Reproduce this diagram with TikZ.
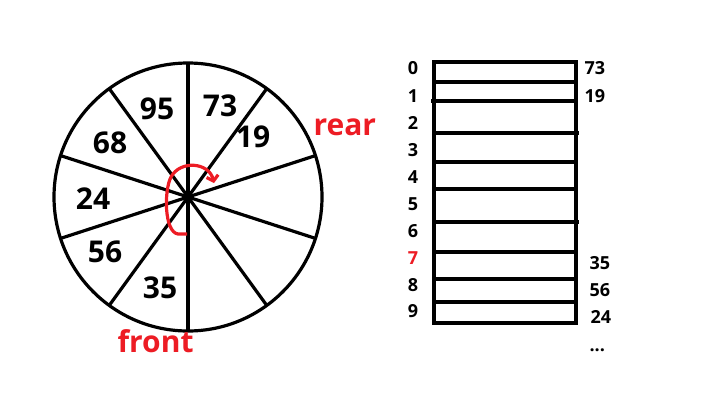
\documentclass[tikz,border=0pt]{standalone}
\usepackage{fontspec}
\setmainfont{Open Sans}
\usepackage{xcolor}
\usetikzlibrary{arrows.meta, positioning, calc}
\definecolor{paintred}{RGB}{237,28,36}

\begin{document}
\begin{tikzpicture}[x=1pt, y=-1pt, font=\bfseries, line width=3.2pt,
    slot/.style={inner sep=0pt, font=\fontsize{30}{30}\selectfont\bfseries},
    idx/.style={inner sep=0pt, font=\fontsize{18}{18}\selectfont\bfseries},
    tag/.style={inner sep=0pt, anchor=base west, text=paintred, font=\fontsize{30}{30}\selectfont\bfseries}]
    \useasboundingbox (0,0) rectangle (717,410);
    \coordinate (c) at (188,197);
    \draw (c) circle[radius=134pt];
    \draw ($(c)+(90:134pt)$) -- ($(c)+(270:134pt)$);
    \draw ($(c)+(54:134pt)$) -- ($(c)+(234:134pt)$);
    \draw ($(c)+(18:134pt)$) -- ($(c)+(198:134pt)$);
    \draw ($(c)+(-18:134pt)$) -- ($(c)+(162:134pt)$);
    \draw ($(c)+(-54:134pt)$) -- ($(c)+(126:134pt)$);
    \node[slot] (n73) at (220,106) {73};
    \node[slot] (n19) at (253,137) {19};
    \node[slot] (n95) at (157,109) {95};
    \node[slot] (n68) at (110,143) {68};
    \node[slot] (n24) at (93,199) {24};
    \node[slot] (n56) at (105,252) {56};
    \node[slot] (n35) at (160,288) {35};
    \node[tag] (rear) at (312,135) {rear};
    \node[tag] (front) at (116,352) {front};
    \draw[paintred, -{Straight Barb[length=5pt,width=12pt]}] (187,234) -- (178,234)
        .. controls (164,232) and (164,190) .. (171,177)
        .. controls (180,160) and (209,162) .. (214,183);
    \draw (434,62) rectangle (576,323);
    \draw (434,82) -- (576,82);
    \draw (431,101) -- (576,101);
    \draw (434,133) -- (579,133);
    \draw (434,162) -- (576,162);
    \draw (434,189) -- (576,189);
    \draw (434,222) -- (579,222);
    \draw (434,252) -- (576,252);
    \draw (434,279) -- (576,279);
    \draw (434,302) -- (576,302);
    \node[idx] (i0) at (413,68.5) {0};
    \node[idx] (i1) at (413,96) {1};
    \node[idx] (i2) at (413,122.5) {2};
    \node[idx] (i3) at (413,150) {3};
    \node[idx] (i4) at (413,177) {4};
    \node[idx] (i5) at (413,204) {5};
    \node[idx] (i6) at (413,231) {6};
    \node[idx, text=paintred] (i7) at (413,258) {7};
    \node[idx] (i8) at (413,285) {8};
    \node[idx] (i9) at (413,311) {9};
    \node[idx, anchor=west] (v73) at (583,68) {73};
    \node[idx, anchor=west] (v19) at (583,96) {19};
    \node[idx, anchor=west] (v35) at (588,263) {35};
    \node[idx, anchor=west] (v56) at (588,290) {56};
    \node[idx, anchor=west] (v24) at (589,317) {24};
    \node[idx, anchor=west] (more) at (588,350) {...};
\end{tikzpicture}
\end{document}
